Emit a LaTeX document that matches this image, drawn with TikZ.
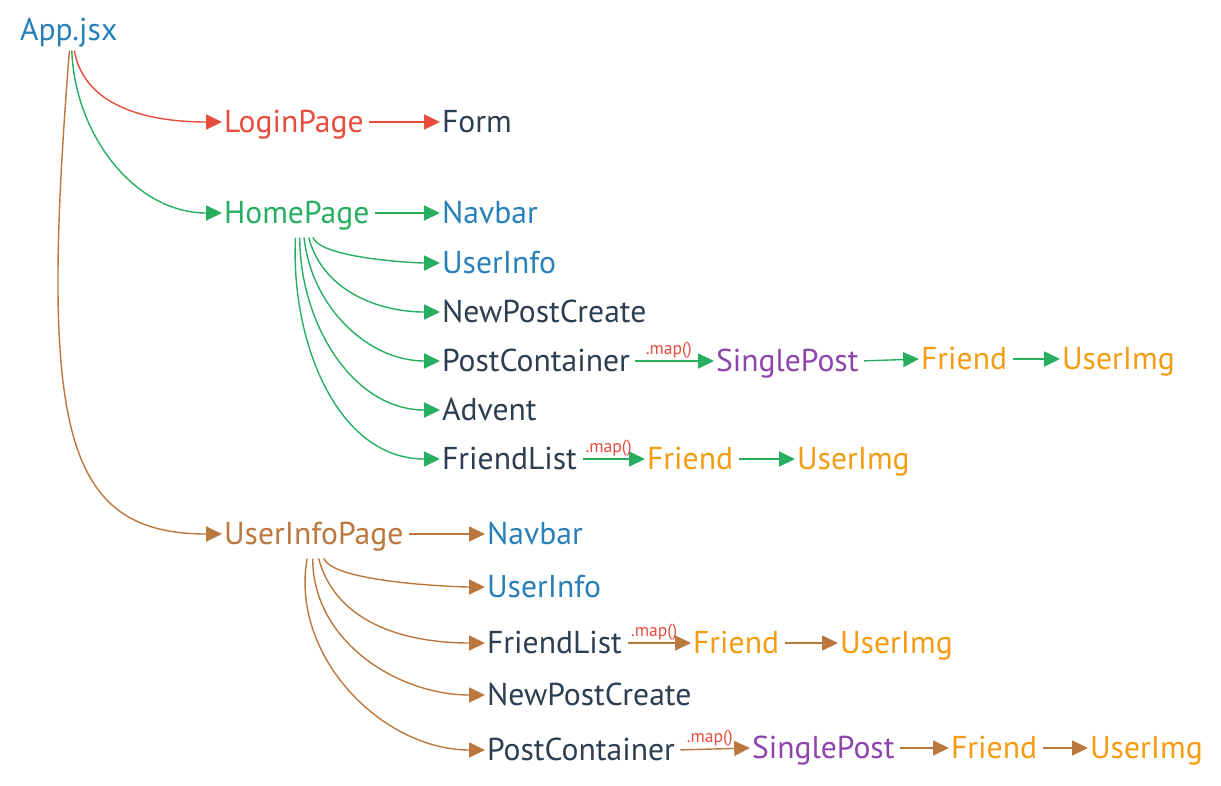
\documentclass[tikz,border=0pt]{standalone}
\usepackage{fontspec}
\setmainfont{PT Sans}
\usetikzlibrary{arrows.meta, positioning, calc}
\definecolor{appblue}{RGB}{41,128,185}
\definecolor{loginred}{RGB}{231,76,60}
\definecolor{homegreen}{RGB}{39,174,96}
\definecolor{infobrown}{RGB}{186,120,62}
\definecolor{compdark}{RGB}{44,62,80}
\definecolor{postpurple}{RGB}{142,68,173}
\definecolor{friendorange}{RGB}{243,156,18}

\begin{document}
\begin{tikzpicture}[x=0.02cm, y=-0.02cm,
  comp/.style={anchor=west, inner sep=1pt, text height=12.5pt, text depth=0pt, font=\fontsize{18}{21}\selectfont},
  maplbl/.style={font=\fontsize{10}{11}\selectfont, text=loginred, inner sep=1pt, above},
  link/.style={-{Triangle[length=9pt,width=8.5pt]}, line width=0.8pt, shorten <=2pt}]
\useasboundingbox (0,0) rectangle (1221,785);

\node[comp, text=appblue] (app) at (18,30) {App.jsx};

\node[comp, text=loginred] (login) at (222,122) {LoginPage};
\node[comp, text=compdark] (form) at (440,122) {Form};

\node[comp, text=homegreen] (home) at (222,213) {HomePage};
\node[comp, text=appblue] (hnav) at (440,213) {Navbar};
\node[comp, text=appblue] (huinfo) at (440,263) {UserInfo};
\node[comp, text=compdark] (hnew) at (440,312) {NewPostCreate};
\node[comp, text=compdark] (hpost) at (440,361) {PostContainer};
\node[comp, text=postpurple] (hsingle) at (714,361) {SinglePost};
\node[comp, text=friendorange] (hfriendA) at (919,359) {Friend};
\node[comp, text=friendorange] (himgA) at (1060,359) {UserImg};
\node[comp, text=compdark] (hadvent) at (440,410) {Advent};
\node[comp, text=compdark] (hflist) at (440,459) {FriendList};
\node[comp, text=friendorange] (hfriendB) at (645,459) {Friend};
\node[comp, text=friendorange] (himgB) at (795,459) {UserImg};

\node[comp, text=infobrown] (uip) at (222,534) {UserInfoPage};
\node[comp, text=appblue] (unav) at (485,534) {Navbar};
\node[comp, text=appblue] (uuinfo) at (485,587) {UserInfo};
\node[comp, text=compdark] (uflist) at (485,643) {FriendList};
\node[comp, text=friendorange] (ufriendA) at (691,643) {Friend};
\node[comp, text=friendorange] (uimgA) at (838,643) {UserImg};
\node[comp, text=compdark] (unew) at (485,695) {NewPostCreate};
\node[comp, text=compdark] (upost) at (485,750) {PostContainer};
\node[comp, text=postpurple] (usingle) at (750,748) {SinglePost};
\node[comp, text=friendorange] (ufriendB) at (949,748) {Friend};
\node[comp, text=friendorange] (uimgB) at (1088,748) {UserImg};

\draw[link, loginred] ($(app.south)+(5,4)$) to[out=-80, in=180] (login.west);
\draw[link, homegreen] ($(app.south)+(3,4)$) to[out=-88, in=180] (home.west);
\draw[link, infobrown] ($(app.south)+(1,4)$) .. controls +(-30,380) and +(-160,0) .. (uip.west);

\draw[link, loginred] (login.east) -- (form.west);

\draw[link, homegreen] (home.east) -- (hnav.west);
\draw[link, homegreen] ($(home.south)+(15,8)$) to[out=-70, in=180, looseness=0.5] (huinfo.west);
\foreach \dest/\dx/\ang in {hnew/11/-75, hpost/7/-84, hadvent/3/-90, hflist/-1/-93}
  \draw[link, homegreen] ($(home.south)+(\dx,8)$) to[out=\ang, in=180] (\dest.west);
\draw[link, homegreen] (hpost.east) -- node[maplbl, pos=0.45] {.map()} (hsingle.west);
\draw[link, homegreen] (hsingle.east) -- (hfriendA.west);
\draw[link, homegreen] (hfriendA.east) -- (himgA.west);
\draw[link, homegreen] (hflist.east) -- node[maplbl, pos=0.45] {.map()} (hfriendB.west);
\draw[link, homegreen] (hfriendB.east) -- (himgB.west);

\draw[link, infobrown] (uip.east) -- (unav.west);
\draw[link, infobrown] ($(uip.south)+(9,8)$) to[out=-70, in=180, looseness=0.45] (uuinfo.west);
\foreach \dest/\dx/\ang in {uflist/4/-75, unew/-1/-90, upost/-6/-100}
  \draw[link, infobrown] ($(uip.south)+(\dx,8)$) to[out=\ang, in=180] (\dest.west);
\draw[link, infobrown] (uflist.east) -- node[maplbl, pos=0.45] {.map()} (ufriendA.west);
\draw[link, infobrown] (ufriendA.east) -- (uimgA.west);
\draw[link, infobrown] (upost.east) -- node[maplbl, pos=0.45] {.map()} (usingle.west);
\draw[link, infobrown] (usingle.east) -- (ufriendB.west);
\draw[link, infobrown] (ufriendB.east) -- (uimgB.west);
\end{tikzpicture}
\end{document}
